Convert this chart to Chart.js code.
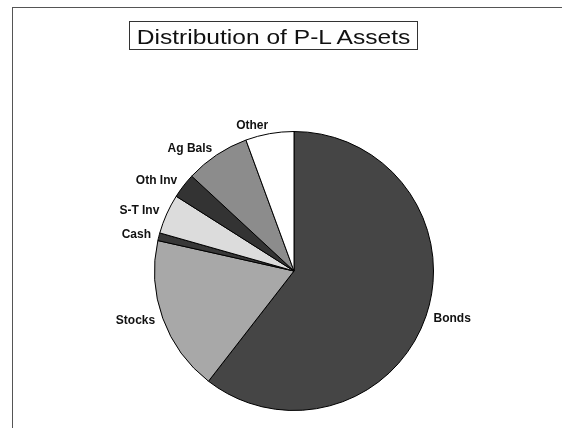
<!DOCTYPE html>
<html>
<head>
<meta charset="utf-8">
<script src="https://cdn.jsdelivr.net/npm/chart.js@4/dist/chart.umd.min.js"></script>
<style>
  html, body { margin: 0; padding: 0; background: #fff; width: 562px; height: 428px; overflow: hidden; }
  #wrap { position: relative; width: 562px; height: 428px; }
  #frame { position: absolute; left: 12px; top: 7px; width: 700px; height: 600px;
           border-top: 1px solid #555; border-left: 1px solid #555; }
  #titlebox { position: absolute; left: 129px; top: 21px; width: 287px; height: 27px;
              border: 1px solid #333; }
  #title { position: absolute; left: 0; top: 0; width: 100%; height: 100%; text-align: center;
           font-family: "Liberation Sans", Arial, sans-serif; font-size: 21px; line-height: 29px;
           color: #111; transform: scaleX(1.17); transform-origin: center; white-space: nowrap; }
  canvas { position: absolute; left: 0; top: 0; }
</style>
</head>
<body>
<div id="wrap">
  <div id="frame"></div>
  <canvas id="c" width="562" height="428"></canvas>
  <div id="titlebox"><div id="title">Distribution of P-L Assets</div></div>
</div>
<script>
const categories = ["Bonds", "Stocks", "Cash", "S-T Inv", "Oth Inv", "Ag Bals", "Other"];
const shares = [60.5, 18.0, 0.9, 4.6, 2.9, 7.5, 5.6];
const sliceColors = ["#454545", "#a8a8a8", "#383838", "#dcdcdc", "#333333", "#8c8c8c", "#ffffff"];

const labelPlugin = {
  id: 'sliceLabels',
  afterDatasetsDraw(chart) {
    const ctx = chart.ctx;
    const meta = chart.getDatasetMeta(0);
    ctx.save();
    ctx.font = 'bold 12px "Liberation Sans", Arial, sans-serif';
    ctx.fillStyle = '#111';
    ctx.textBaseline = 'middle';
    meta.data.forEach((arc, i) => {
      const p = arc.getProps(['x', 'y', 'startAngle', 'endAngle', 'outerRadius'], true);
      const mid = (p.startAngle + p.endAngle) / 2;
      const r = p.outerRadius + 8;
      const lx = p.x + Math.cos(mid) * r;
      const ly = p.y + Math.sin(mid) * r;
      ctx.textAlign = Math.cos(mid) >= 0 ? 'left' : 'right';
      ctx.fillText(categories[i], lx, ly);
    });
    ctx.restore();
  }
};

new Chart(document.getElementById('c'), {
  type: 'pie',
  data: {
    labels: categories,
    datasets: [{
      data: shares,
      backgroundColor: sliceColors,
      borderColor: '#000',
      borderWidth: 1
    }]
  },
  options: {
    responsive: false,
    animation: false,
    devicePixelRatio: 1,
    layout: { padding: { left: 154, right: 128, top: 131, bottom: 17 } },
    plugins: {
      legend: { display: false },
      tooltip: { enabled: false },
      title: { display: false }
    }
  },
  plugins: [labelPlugin]
});
</script>
</body>
</html>
